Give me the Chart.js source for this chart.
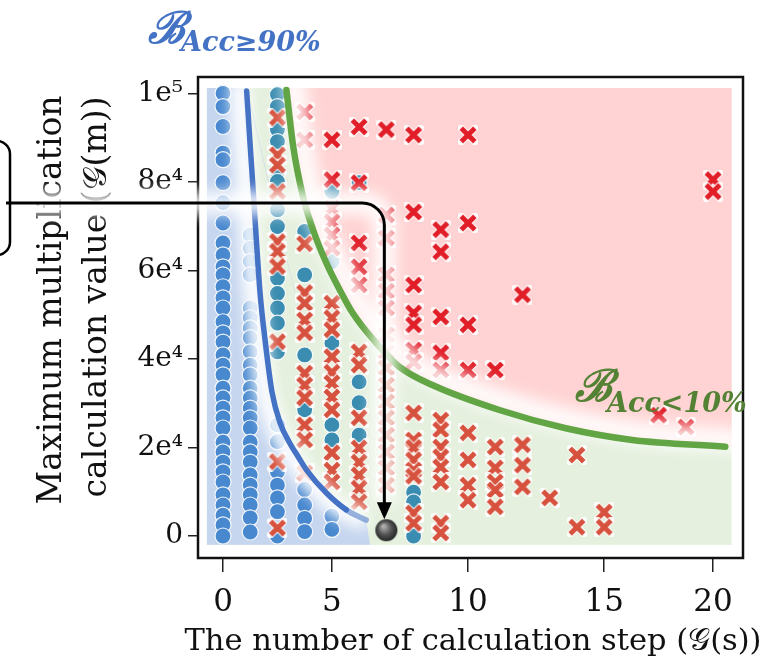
<!DOCTYPE html>
<html>
<head>
<meta charset="utf-8">
<script src="https://cdn.jsdelivr.net/npm/chart.js@4.4.1/dist/chart.umd.min.js"></script>
<style>
html,body{margin:0;padding:0;background:#ffffff;}
#box{position:relative;width:770px;height:664px;}
</style>
</head>
<body>
<div id="box"><canvas id="chart" width="770" height="664"></canvas></div>
<script>
// ---------------- data ----------------
const xTickValues = [0, 4, 9, 14, 18];
const xTickLabels = ['0', '5', '10', '15', '20'];
const yTickValues = [0, 20000, 40000, 60000, 80000, 100000];
const yTickLabels = ['0', '2e⁴', '4e⁴', '6e⁴', '8e⁴', '1e⁵'];
const xTitle = 'The number of calculation step (𝒢(s))';
const yTitle = ['Maximum multiplication', 'calculation value (𝒢(m))'];
const labelHigh = ['ℬ', 'Acc≥90%'];
const labelLow = ['ℬ', 'Acc<10%'];

const blueCircles = [
  [0,100000],[0,97000],[0,92500],[0,86500],[0,85000],[0,79800],[0,75300],[0,70700],[0,66200],[0,63500],
  [0,60800],[0,59000],[0,56300],[0,53800],[0,51500],[0,48400],[0,45900],[0,43800],[0,40900],[0,38600],
  [0,36400],[0,33400],[0,31200],[0,28900],[0,26700],[0,24400],[0,21200],[0,19000],[0,16700],[0,14500],
  [0,12200],[0,9300],[0,7000],[0,4700],[0,2500],[0,0],
  [1,68000],[1,65000],[1,62000],[1,59000],[1,51500],[1,49300],[1,47000],[1,44800],[1,41600],[1,38600],
  [1,36400],[1,33400],[1,31200],[1,28900],[1,26700],[1,24400],[1,21200],[1,19000],[1,16700],[1,13800],
  [1,11500],[1,9300],[1,7000],[1,4100],[1,900],
  [2,25100],[2,21300],[2,14500],[2,11500],[2,8600],[2,5500],[2,0],
  [3,10500],[3,7000],[3,4000],[3,1000],
  [4,4500],[4,1500]
];
const tealCircles = [
  [2,99700],[2,97000],[2,91800],[2,89100],[2,82300],[2,80100],[2,73700],[2,69900],[2,58200],[2,54800],
  [2,51500],[2,48100],[2,41600],
  [3,68800],[3,59000],[3,40900],[3,28500],
  [4,77800],[4,62000],[4,43600],[4,25100],[4,21700],
  [5,79800],[5,34800],[5,30100],[5,22800],
  [7,9900],[7,7700],[7,0]
];
const orangeCrosses = [
  [2,94500],[2,86100],[2,83800],[2,77800],[2,66500],[2,64300],[2,60900],[2,43900],[2,16800],[2,1800],
  [3,66000],[3,55000],[3,52600],[3,48800],[3,45900],[3,36800],[3,34100],[3,31200],[3,25100],[3,21700],[3,14200],
  [4,52600],[4,49300],[4,46600],[4,40500],[4,37000],[4,34600],[4,31400],[4,28500],[4,18800],[4,14900],[4,12200],
  [5,41600],[5,38600],[5,26700],[5,19900],[5,16700],[5,13800],[5,10800],[5,7700],
  [6,41600],[6,38000],[6,34100],[6,30300],[6,26700],[6,22800],[6,19000],[6,15400],[6,11500],
  [7,27800],[7,21700],[7,20000],[7,17200],[7,14900],[7,13500],[7,5200],[7,2900],
  [8,26200],[8,24000],[8,20100],[8,17900],[8,15600],[8,12200],[8,2900],[8,700],
  [9,23300],[9,17200],[9,11500],[9,8100],
  [10,20100],[10,15400],[10,12200],[10,10400],[10,6600],
  [11,20600],[11,16000],[11,11100],
  [12,8600],
  [13,18300],[13,2000],
  [14,5400],[14,2000]
];
const redCrosses = [
  [3,95800],[3,89500],
  [4,89500],[4,80500],[4,74000],[4,71000],[4,68000],[4,65000],
  [5,92400],[5,79800],[5,66200],[5,60800],[5,56700],
  [6,91800],[6,72500],[6,67300],[6,59000],[6,55300],[6,51500],[6,45400],
  [7,90600],[7,73200],[7,56700],[7,50400],[7,47700],[7,42000],[7,39300],
  [8,69200],[8,64200],[8,49500],[8,41400],[8,37500],
  [9,90600],[9,70700],[9,47700],[9,37500],
  [10,37500],
  [11,54500],
  [16,27300],[17,24600],[18,80500],[18,77800]
];
const ballPoint = [[6,1300]];
const blueBoundary = [
  [0.87,100500],[0.99,89000],[1.11,78000],[1.23,66500],[1.36,55000],[1.56,43500],[1.8,32500],
  [2.1,25500],[2.45,21000],[2.75,18000],[3.07,14900],[3.8,9700],[4.53,5900],[5.26,3600]
];
const greenBoundary = [
  [2.33,100750],[2.58,87950],[2.94,76650],[3.31,69130],[3.8,61600],[4.29,55570],[4.77,50300],
  [5.6,43800],[6.48,38200],[7.69,34100],[10.15,28460],[12.59,24330],[15.03,21690],[18.45,20180]
];
// shaded zone extents (data units)
const zoneX = [-0.59, 18.68];
const zoneY = [-2000, 101200];
const blueZoneFootX = 5.4;

// ---------------- styles ----------------
const SERIF = "'DejaVu Serif', serif";
const COL = {
  blueBg: '#c6d6ef', greenBg: '#e5f0de', redBg: '#ffd3d3',
  blueDot: '#4888cf', tealDot: '#3a8cb0', redX: '#e11e28', orangeX: '#d6523e',
  blueLine: '#4472c4', greenLine: '#62a544', blueText: '#4472c4', greenText: '#548235'
};
const toXY = a => a.map(p => ({x: p[0], y: p[1]}));

function makeCross(color) {
  const s = 20, c = document.createElement('canvas');
  c.width = s; c.height = s;
  const g = c.getContext('2d'), m = s / 2, h = 6.8;
  g.beginPath();
  g.moveTo(m - h, m - h); g.lineTo(m + h, m + h);
  g.moveTo(m + h, m - h); g.lineTo(m - h, m + h);
  g.lineCap = 'square';
  g.strokeStyle = 'rgba(255,255,255,0.9)'; g.lineWidth = 7; g.stroke();
  g.lineCap = 'butt';
  g.strokeStyle = color; g.lineWidth = 5; g.stroke();
  return c;
}
function makeBall() {
  const s = 24, c = document.createElement('canvas');
  c.width = s; c.height = s;
  const g = c.getContext('2d');
  const grd = g.createRadialGradient(9, 8, 1, 12, 12, 12);
  grd.addColorStop(0, '#b0b0b0'); grd.addColorStop(0.5, '#555'); grd.addColorStop(1, '#1e1e1e');
  g.beginPath(); g.arc(12, 12, 11, 0, Math.PI * 2); g.fillStyle = grd; g.fill();
  return c;
}

const IDX_BLUE_LINE = 1, IDX_GREEN_LINE = 2;

function tracePath(chart, idx, ctx) {
  const line = chart.getDatasetMeta(idx).dataset;
  if (line && typeof line.path === 'function') {
    if (typeof line.updateControlPoints === 'function') line.updateControlPoints(chart.chartArea, 'x');
    line.path(ctx);
  } else {
    const pts = chart.getDatasetMeta(idx).data;
    pts.forEach((p, i) => i ? ctx.lineTo(p.x, p.y) : ctx.moveTo(p.x, p.y));
  }
}

let glowDone = false;
const zonePlugin = {
  id: 'zones',
  beforeDraw() { glowDone = false; },
  beforeDatasetsDraw(chart) {
    const {ctx, scales: {x, y}} = chart;
    const X = v => x.getPixelForValue(v), Y = v => y.getPixelForValue(v);
    ctx.save();
    ctx.fillStyle = COL.greenBg;
    ctx.fillRect(X(zoneX[0]), Y(zoneY[1]), X(zoneX[1]) - X(zoneX[0]), Y(zoneY[0]) - Y(zoneY[1]));
    const gl = greenBoundary[greenBoundary.length - 1], g0 = greenBoundary[0];
    ctx.beginPath();
    tracePath(chart, IDX_GREEN_LINE, ctx);
    ctx.lineTo(X(zoneX[1]), Y(gl[1]));
    ctx.lineTo(X(zoneX[1]), Y(zoneY[1]));
    ctx.lineTo(X(g0[0]), Y(zoneY[1]));
    ctx.closePath();
    ctx.fillStyle = COL.redBg; ctx.fill();
    const b0 = blueBoundary[0];
    ctx.beginPath();
    tracePath(chart, IDX_BLUE_LINE, ctx);
    ctx.lineTo(X(blueZoneFootX), Y(zoneY[0]));
    ctx.lineTo(X(zoneX[0]), Y(zoneY[0]));
    ctx.lineTo(X(zoneX[0]), Y(zoneY[1]));
    ctx.lineTo(X(b0[0]), Y(zoneY[1]));
    ctx.closePath();
    ctx.fillStyle = COL.blueBg; ctx.fill();
    ctx.restore();
  },
  beforeDatasetDraw(chart, args) {
    if (glowDone) return;
    if (args.index !== IDX_BLUE_LINE && args.index !== IDX_GREEN_LINE) return;
    glowDone = true;
    const ctx = chart.ctx;
    const glow = (idx, dx, dy, w, blur, a) => {
      ctx.save();
      ctx.translate(dx, dy);
      ctx.filter = 'blur(' + blur + 'px)';
      ctx.beginPath();
      tracePath(chart, idx, ctx);
      ctx.lineWidth = w; ctx.lineCap = 'round'; ctx.lineJoin = 'round';
      ctx.strokeStyle = 'rgba(255,255,255,' + a + ')';
      ctx.stroke();
      ctx.restore();
    };
    glow(IDX_BLUE_LINE, -7, -2, 20, 7, 0.95);
    glow(IDX_GREEN_LINE, 8, -7, 22, 8, 0.95);
  },
  afterDatasetsDraw(chart) {
    const {ctx, chartArea: a} = chart;
    ctx.save();
    ctx.lineWidth = 2.5; ctx.strokeStyle = '#111';
    ctx.strokeRect(a.left, a.top, a.right - a.left, a.bottom - a.top);
    ctx.restore();
  }
};

function drawB(ctx, lab, x, base, subX, subBase, color, bigSize, subSize) {
  ctx.save();
  ctx.fillStyle = color;
  ctx.textAlign = 'left'; ctx.textBaseline = 'alphabetic';
  ctx.font = 'bold italic ' + bigSize + 'px ' + SERIF;
  ctx.fillText(lab[0], x, base);
  ctx.font = 'bold italic ' + subSize + 'px ' + SERIF;
  ctx.fillText(lab[1], subX, subBase);
  ctx.restore();
}

const overlayPlugin = {
  id: 'overlay',
  afterDraw(chart) {
    const {ctx, scales: {x, y}} = chart;
    // x axis title
    ctx.save();
    ctx.fillStyle = '#111';
    ctx.font = '30.5px ' + SERIF;
    ctx.textAlign = 'center'; ctx.textBaseline = 'alphabetic';
    ctx.fillText(xTitle, 473, 650);
    ctx.restore();
    // y axis title
    ctx.save();
    ctx.fillStyle = '#111';
    ctx.font = '33px ' + SERIF;
    ctx.textAlign = 'center'; ctx.textBaseline = 'alphabetic';
    ctx.translate(61, 300); ctx.rotate(-Math.PI / 2);
    ctx.fillText(yTitle[0], 0, 0);
    ctx.restore();
    ctx.save();
    ctx.fillStyle = '#111';
    ctx.font = '33px ' + SERIF;
    ctx.textAlign = 'center'; ctx.textBaseline = 'alphabetic';
    ctx.translate(106, 297); ctx.rotate(-Math.PI / 2);
    ctx.fillText(yTitle[1], 0, 0);
    ctx.restore();

    drawB(ctx, labelHigh, 148, 43, 181, 51, COL.blueText, 44, 27);
    drawB(ctx, labelLow, 575, 401, 607, 412, COL.greenText, 44, 27);

    const bx = x.getPixelForValue(ballPoint[0][0]) - 2;
    const by = y.getPixelForValue(ballPoint[0][1]);
    const hy = 203, r = 22, sx = 6, tipY = by - 11, headLen = 17, headW = 7.5;
    const path = () => {
      ctx.beginPath();
      ctx.moveTo(sx, hy);
      ctx.lineTo(bx - r, hy);
      ctx.arcTo(bx, hy, bx, hy + r, r);
      ctx.lineTo(bx, tipY - headLen + 1);
    };
    ctx.save();
    ctx.filter = 'blur(7px)';
    path();
    ctx.lineWidth = 24; ctx.strokeStyle = 'rgba(255,255,255,0.85)'; ctx.stroke();
    ctx.restore();

    ctx.save();
    ctx.strokeStyle = '#000'; ctx.fillStyle = '#000';
    ctx.lineWidth = 2.5;
    ctx.beginPath();
    ctx.roundRect(-24, 141, 34, 114, 13);
    ctx.stroke();
    path();
    ctx.lineWidth = 3; ctx.stroke();
    ctx.beginPath();
    ctx.moveTo(bx - headW, tipY - headLen);
    ctx.lineTo(bx + headW, tipY - headLen);
    ctx.lineTo(bx, tipY);
    ctx.closePath(); ctx.fill();
    ctx.restore();
  }
};

const crossRed = makeCross(COL.redX);
const crossOrange = makeCross(COL.orangeX);
const ballImg = makeBall();
const nBlue = blueBoundary.length;

new Chart(document.getElementById('chart'), {
  type: 'scatter',
  data: {
    datasets: [
      {label: 'ball', data: toXY(ballPoint), pointStyle: ballImg, pointRadius: 11, order: 0},
      {label: 'blueBoundary', type: 'line', showLine: true, data: toXY(blueBoundary),
       borderColor: COL.blueLine, borderWidth: 5.5, pointRadius: 0, fill: false,
       cubicInterpolationMode: 'monotone', borderCapStyle: 'round', order: 1,
       segment: {borderColor: c => c.p1DataIndex >= nBlue - 1 ? 'rgba(68,114,196,0.55)' : undefined}},
      {label: 'greenBoundary', type: 'line', showLine: true, data: toXY(greenBoundary),
       borderColor: COL.greenLine, borderWidth: 6.5, pointRadius: 0, fill: false,
       cubicInterpolationMode: 'monotone', borderCapStyle: 'round', order: 1},
      {label: 'redCrosses', data: toXY(redCrosses), pointStyle: crossRed, pointRadius: 8, order: 2},
      {label: 'orangeCrosses', data: toXY(orangeCrosses), pointStyle: crossOrange, pointRadius: 8, order: 3},
      {label: 'tealCircles', data: toXY(tealCircles), pointStyle: 'circle', pointRadius: 8,
       backgroundColor: COL.tealDot, borderColor: 'rgba(255,255,255,0.9)', borderWidth: 1.2, order: 4},
      {label: 'blueCircles', data: toXY(blueCircles), pointStyle: 'circle', pointRadius: 8,
       backgroundColor: COL.blueDot, borderColor: 'rgba(255,255,255,0.9)', borderWidth: 1.2, order: 5}
    ]
  },
  options: {
    responsive: false,
    animation: false,
    events: [],
    layout: {padding: {left: 0, right: 27, top: 77, bottom: 0}},
    plugins: {legend: {display: false}, tooltip: {enabled: false}},
    scales: {
      x: {
        type: 'linear', min: -0.918, max: 19.1,
        afterBuildTicks: s => { s.ticks = xTickValues.map(v => ({value: v})); },
        afterFit: s => { s.height = 106; },
        grid: {drawOnChartArea: false, drawTicks: true, tickLength: 14, color: '#222', lineWidth: 1.5},
        border: {display: false},
        ticks: {callback: v => xTickLabels[xTickValues.indexOf(v)], autoSkip: false, maxRotation: 0,
                font: {family: SERIF, size: 31}, color: '#111', padding: 12},
        title: {display: false}
      },
      y: {
        type: 'linear', min: -4970, max: 103680,
        afterBuildTicks: s => { s.ticks = yTickValues.map(v => ({value: v})); },
        afterFit: s => { s.width = 198; },
        grid: {drawOnChartArea: false, drawTicks: true, tickLength: 10, color: '#222', lineWidth: 1.5},
        border: {display: false},
        ticks: {callback: v => yTickLabels[yTickValues.indexOf(v)], autoSkip: false,
                font: {family: SERIF, size: 28}, color: '#111', padding: 5},
        title: {display: false}
      }
    }
  },
  plugins: [zonePlugin, overlayPlugin]
});
</script>
</body>
</html>
